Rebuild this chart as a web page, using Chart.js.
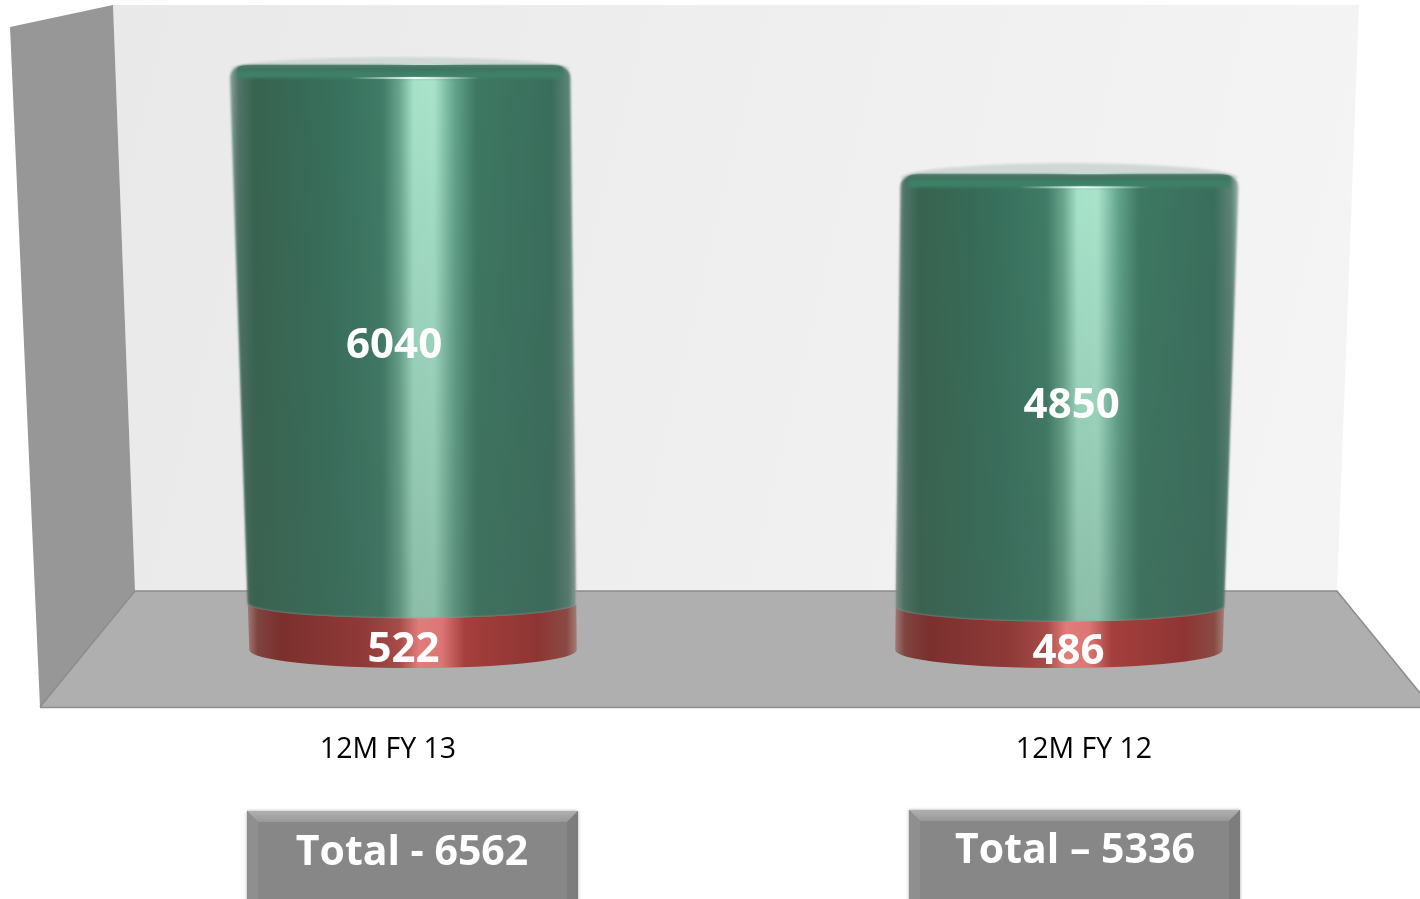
<!DOCTYPE html>
<html>
<head>
<meta charset="utf-8">
<style>
  html, body { margin: 0; background: #fff; overflow: hidden; }
  canvas { display: block; }
</style>
<script src="https://cdn.jsdelivr.net/npm/chart.js@4"></script>
</head>
<body>
<canvas id="myChart" width="1432" height="899"></canvas>
<script>
const categories = ['12M FY 13', '12M FY 12']
const redValues = [522, 486]
const greenValues = [6040, 4850]
const totalLabels = ['Total - 6562', 'Total \u2013 5336']

const greenColor = '#3b7560'
const redColor = '#983a38'
const labelFont = 'bold 42px "Open Sans"'

const greenStops = [[0, '#8aa39b'], [0.025, '#4f7568'], [0.07, '#37634f'], [0.3, '#37705c'], [0.44, '#3f7b66'],
  [0.49, '#6ba78f'], [0.53, '#a6e2c9'], [0.59, '#a8e3ca'], [0.65, '#62a38c'], [0.71, '#3d7863'],
  [0.93, '#3a6e5c'], [0.98, '#5f8478'], [1, '#a0b3ad']]
const redStops = [[0, '#a07a74'], [0.03, '#7f4340'], [0.1, '#7b302e'], [0.35, '#8f3a38'], [0.46, '#a64b48'],
  [0.52, '#e07c7a'], [0.59, '#dc7674'], [0.66, '#a53f3d'], [0.88, '#8e3533'], [0.97, '#8a4a44'], [1, '#a08078']]

// floor of the chart is seen from above, so the bars lean away from this x
let vanishX = 0
let floorY = 0
const depth = y => 0.928 * (1 + (floorY - y) * 6.8e-5)
const project = (x, y) => vanishX + (x - vanishX) * depth(y)
const rimDepth = y => 15 + (y - 607) * 0.07
const capDepth = y => 10 + y * 0.03

function sideGradient(ctx, x0, x1, stops) {
  const g = ctx.createLinearGradient(x0, 0, x1, 0)
  stops.forEach(s => g.addColorStop(s[0], s[1]))
  return g
}

Chart.BarElement.prototype.draw = function(ctx) {
  const {x, y, base, width} = this
  const isGreen = this.options.backgroundColor === greenColor
  const tl = project(x - width / 2, y)
  const tr = project(x + width / 2, y)
  const bl = project(x - width / 2, base)
  const br = project(x + width / 2, base)
  const ct = (tl + tr) / 2
  const cb = (bl + br) / 2

  ctx.save()
  if (isGreen) {
    ctx.save()
    ctx.filter = 'blur(1px)'
    ctx.fillStyle = '#d0d8d5'
    ctx.beginPath()
    ctx.ellipse(ct, y + 4, (tr - tl) / 2, capDepth(y), 0, Math.PI, 0)
    ctx.fill()
    ctx.restore()
  }

  const rx = 20
  const ry = 13
  ctx.beginPath()
  if (isGreen) {
    ctx.moveTo(tl, y + ry)
    ctx.quadraticCurveTo(tl, y, tl + rx, y)
    ctx.lineTo(tr - rx, y)
    ctx.quadraticCurveTo(tr, y, tr, y + ry)
    ctx.lineTo(br, base)
    ctx.ellipse(cb, base, (br - bl) / 2, rimDepth(base), 0, 0, Math.PI)
  } else {
    ctx.moveTo(tr, y)
    ctx.ellipse(ct, y, (tr - tl) / 2, rimDepth(y), 0, 0, Math.PI)
    ctx.lineTo(bl, base)
    ctx.ellipse(cb, base, (br - bl) / 2, rimDepth(base), 0, Math.PI, 0, true)
  }
  ctx.closePath()
  ctx.fillStyle = sideGradient(ctx, Math.min(tl, bl), Math.max(tr, br), isGreen ? greenStops : redStops)
  if (isGreen) ctx.filter = 'blur(0.8px)'
  ctx.fill()
  ctx.filter = 'none'

  if (isGreen) {
    ctx.clip()
    const fade = ctx.createLinearGradient(0, y + 20, 0, base + 15)
    fade.addColorStop(0, 'rgba(70,95,85,0)')
    fade.addColorStop(1, 'rgba(70,95,85,0.28)')
    ctx.fillStyle = fade
    ctx.fillRect(tl - 5, y, tr - tl + 10, base - y + 20)

    const rim = ctx.createLinearGradient(0, y, 0, y + 14)
    rim.addColorStop(0, '#557f70')
    rim.addColorStop(0.25, '#3c6f5d')
    rim.addColorStop(0.55, '#3f8068')
    rim.addColorStop(1, '#3f8068')
    ctx.fillStyle = rim
    ctx.filter = 'blur(1.5px)'
    ctx.fillRect(tl + 8, y - 2, tr - tl - 16, 15)
    ctx.filter = 'none'

    const shine = ctx.createLinearGradient(ct - 50, 0, ct + 80, 0)
    shine.addColorStop(0, 'rgba(255,255,255,0)')
    shine.addColorStop(0.5, 'rgba(240,255,250,1)')
    shine.addColorStop(1, 'rgba(255,255,255,0)')
    ctx.fillStyle = shine
    ctx.fillRect(ct - 50, y + 12, 130, 2)
  }
  ctx.restore()
}

const roomPlugin = {
  id: 'room',
  beforeDraw(chart) {
    const {ctx, chartArea} = chart
    vanishX = (chartArea.left + chartArea.right) / 2
    floorY = chartArea.bottom
    const poly = (pts, fill) => {
      ctx.beginPath()
      pts.forEach((p, i) => i ? ctx.lineTo(p[0], p[1]) : ctx.moveTo(p[0], p[1]))
      ctx.closePath()
      ctx.fillStyle = fill
      ctx.fill()
    }
    ctx.save()
    const back = ctx.createLinearGradient(113, 0, 1359, 300)
    back.addColorStop(0, '#e9e9e9')
    back.addColorStop(1, '#f4f4f4')
    poly([[113, 5], [1359, 5], [1337, 591], [135, 591]], back)
    poly([[10, 27], [113, 5], [135, 591], [40, 707]], '#979797')
    poly([[135, 591], [1337, 591], [1420, 693], [1420, 707], [40, 707]], '#afafaf')
    ctx.strokeStyle = '#8c8c8c'
    ctx.lineWidth = 1.5
    ctx.beginPath()
    ctx.moveTo(40, 707)
    ctx.lineTo(135, 591)
    ctx.lineTo(1337, 591)
    ctx.lineTo(1420, 693)
    ctx.moveTo(40, 707.5)
    ctx.lineTo(1420, 707.5)
    ctx.stroke()
    ctx.restore()
  },
  afterDatasetsDraw(chart) {
    const {ctx} = chart
    ctx.save()
    ctx.font = labelFont
    ctx.fillStyle = '#fff'
    ctx.textAlign = 'center'
    ctx.textBaseline = 'middle'
    const nudgeX = [[-9, 9], [-12, 7]]
    const nudgeY = [[23, 24], [12, 16]]
    chart.data.datasets.forEach((ds, d) => {
      chart.getDatasetMeta(d).data.forEach((bar, i) => {
        const midY = (bar.y + bar.base) / 2
        ctx.fillText(ds.data[i], project(bar.x, midY) + nudgeX[d][i], midY + nudgeY[d][i])
      })
    })
    ctx.restore()
  },
  afterDraw(chart) {
    const {ctx} = chart
    const boxes = [[247, 811, 331], [909, 810, 331]]
    const textAt = [[412, 853], [1075, 851]]
    boxes.forEach((b, i) => {
      const [x, y, w] = b
      const bottom = 899
      const bevel = 11
      ctx.save()
      ctx.shadowColor = 'rgba(0,0,0,0.35)'
      ctx.shadowBlur = 3
      ctx.fillStyle = '#878787'
      ctx.fillRect(x, y, w, bottom - y + 10)
      ctx.restore()
      const side = (pts, fill) => {
        ctx.beginPath()
        pts.forEach((p, k) => k ? ctx.lineTo(p[0], p[1]) : ctx.moveTo(p[0], p[1]))
        ctx.closePath()
        ctx.fillStyle = fill
        ctx.fill()
      }
      const topShade = ctx.createLinearGradient(0, y, 0, y + bevel)
      topShade.addColorStop(0, '#b0b0b0')
      topShade.addColorStop(1, '#989898')
      side([[x, y], [x + w, y], [x + w - bevel, y + bevel], [x + bevel, y + bevel]], topShade)
      side([[x, y], [x + bevel, y + bevel], [x + bevel, bottom], [x, bottom]], '#8f8f8f')
      side([[x + w, y], [x + w - bevel, y + bevel], [x + w - bevel, bottom], [x + w, bottom]], '#7d7d7d')
      ctx.save()
      ctx.font = 'bold 41px "Open Sans"'
      ctx.fillStyle = '#fff'
      ctx.textAlign = 'center'
      ctx.textBaseline = 'middle'
      ctx.fillText(totalLabels[i], textAt[i][0], textAt[i][1])
      ctx.restore()
    })
  }
}

const myChart = new Chart(document.getElementById('myChart').getContext('2d'), {
  type: 'bar',
  data: {
    labels: categories,
    datasets: [
      {data: redValues, backgroundColor: redColor, clip: false},
      {data: greenValues, backgroundColor: greenColor, clip: false}
    ]
  },
  options: {
    responsive: false,
    animation: false,
    layout: {padding: {left: 40, top: 26}},
    categoryPercentage: 1,
    barPercentage: 0.507,
    plugins: {legend: {display: false}, tooltip: {enabled: false}},
    scales: {
      x: {
        stacked: true,
        grid: {display: false, drawTicks: false},
        border: {display: false},
        ticks: {padding: 83, color: '#000', font: {family: '"Open Sans"', size: 28.5}, maxRotation: 0},
        afterFit(scale) { scale.height = 249 }
      },
      y: {stacked: true, display: false, min: 0, max: 7000}
    }
  },
  plugins: [roomPlugin]
})
</script>
</body>
</html>
